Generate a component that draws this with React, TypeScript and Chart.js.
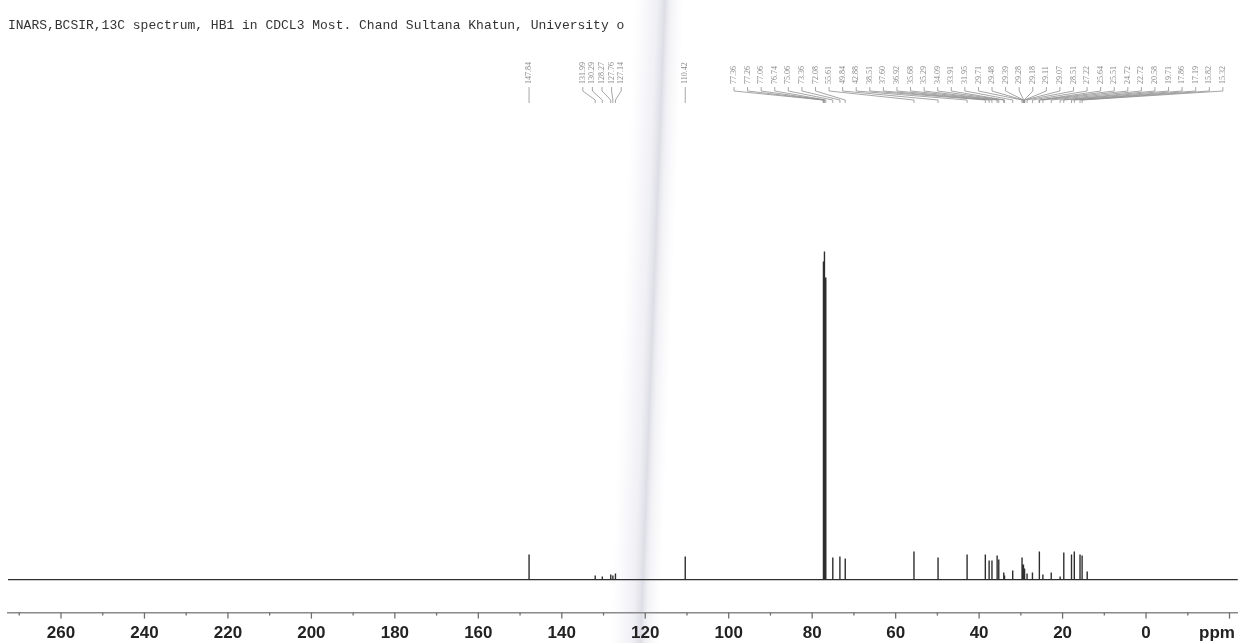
import React, { useEffect, useRef } from "react";
import { Chart, registerables } from "chart.js";

Chart.register(...registerables);

const titleText =
  "INARS,BCSIR,13C spectrum, HB1 in CDCL3 Most. Chand Sultana Khatun, University o";

// axis
const xMin = -22;
const xMax = 272.7;
const tickValues = [260, 240, 220, 200, 180, 160, 140, 120, 100, 80, 60, 40, 20, 0, -17];
const tickLabels = ["260", "240", "220", "200", "180", "160", "140", "120", "100", "80", "60", "40", "20", "0", "ppm"];
const majorTickMarks = [260, 240, 220, 200, 180, 160, 140, 120, 100, 80, 60, 40, 20, 0, -20];
const minorTickMarks = [270, 250, 230, 210, 190, 170, 150, 130, 110, 90, 70, 50, 30, 10, -10];

// peaks (ppm, intensity)
const peakPpm = [
  147.84, 131.99, 130.29, 128.27, 127.76, 127.14, 110.42,
  77.36, 77.26, 77.06, 76.74, 75.06, 73.36, 72.08,
  55.61, 49.84, 42.88, 38.51, 37.6, 36.92, 35.68, 35.29, 34.09, 33.91, 31.95,
  29.71, 29.48, 29.39, 29.28, 29.18, 29.11, 29.07, 28.51, 27.22,
  25.64, 25.51, 24.72, 22.72, 20.58, 19.71, 17.86, 17.19, 15.82, 15.32, 14.1,
];
const peakHeight = [
  25, 4, 3, 5, 4, 6, 23,
  318, 10, 328, 302, 22, 23, 21,
  28, 22, 25, 25, 19, 19, 24, 20, 7, 4, 9,
  22, 15, 13, 14, 11, 10, 9, 6, 7,
  28, 5, 5, 7, 3, 27, 25, 28, 25, 24, 8,
];

// peak-label groups
const labelGroup1 = [147.84];
const labelGroup2 = [131.99, 130.29, 128.27, 127.76, 127.14];
const labelGroup3 = [110.42];
const labelGroup4 = [
  77.36, 77.26, 77.06, 76.74, 75.06, 73.36, 72.08, 55.61, 49.84, 42.88,
  38.51, 37.6, 36.92, 35.68, 35.29, 34.09, 33.91, 31.95, 29.71, 29.48,
  29.39, 29.28, 29.18, 29.11, 29.07, 28.51, 27.22, 25.64, 25.51, 24.72,
  22.72, 20.58, 19.71, 17.86, 17.19, 15.82, 15.32,
];

const paperPlugin = {
  id: "paper",
  beforeDraw(chart: any) {
    const { ctx, width, height } = chart;
    ctx.save();
    ctx.fillStyle = "#ffffff";
    ctx.fillRect(0, 0, width, height);
    // faint scan fold
    ctx.translate(664, 0);
    ctx.transform(1, 0, -0.038, 1, 0, 0);
    const g = ctx.createLinearGradient(-30, 0, 20, 0);
    g.addColorStop(0, "rgba(220,220,235,0)");
    g.addColorStop(0.45, "rgba(205,205,222,0.3)");
    g.addColorStop(0.62, "rgba(175,175,195,0.42)");
    g.addColorStop(0.74, "rgba(205,205,220,0.25)");
    g.addColorStop(1, "rgba(225,225,235,0)");
    ctx.fillStyle = g;
    ctx.fillRect(-30, 0, 50, height);
    ctx.restore();
  },
};

const tickPlugin = {
  id: "tickMarks",
  afterDraw(chart: any) {
    const { ctx } = chart;
    const xs = chart.scales.x;
    const y0 = chart.chartArea.bottom;
    ctx.save();
    ctx.strokeStyle = "#6f6f6f";
    ctx.lineWidth = 1.3;
    majorTickMarks.forEach((v) => {
      const px = xs.getPixelForValue(v);
      ctx.beginPath();
      ctx.moveTo(px, y0);
      ctx.lineTo(px, y0 + 6);
      ctx.stroke();
    });
    minorTickMarks.forEach((v) => {
      const px = xs.getPixelForValue(v);
      ctx.beginPath();
      ctx.moveTo(px, y0);
      ctx.lineTo(px, y0 + 3);
      ctx.stroke();
    });
    ctx.restore();
  },
};

const peakLabelPlugin = {
  id: "peakLabels",
  afterDatasetsDraw(chart: any) {
    const { ctx } = chart;
    const xs = chart.scales.x;
    const textY = 84;
    const stubTop = 87;
    const stubBottom = 91;
    const meetY = 100;
    const endY = 103;
    const layouts = [
      { values: labelGroup1, mode: "single" },
      { values: labelGroup2, mode: "center", center: 602, spacing: 9.6 },
      { values: labelGroup3, mode: "single" },
      { values: labelGroup4, mode: "start", start: 734, spacing: 13.58 },
    ];
    ctx.save();
    ctx.font = '8px "Liberation Serif", serif';
    ctx.fillStyle = "#8a8a8a";
    ctx.strokeStyle = "#8f8f8f";
    ctx.lineWidth = 0.8;
    layouts.forEach((lay: any) => {
      const n = lay.values.length;
      lay.values.forEach((v: number, i: number) => {
        const px = xs.getPixelForValue(v);
        let lx = px;
        if (lay.mode === "center") lx = lay.center + (i - (n - 1) / 2) * lay.spacing;
        if (lay.mode === "start") lx = lay.start + i * lay.spacing;
        ctx.save();
        ctx.translate(lx, textY);
        ctx.rotate(-Math.PI / 2);
        ctx.textAlign = "left";
        ctx.textBaseline = "middle";
        ctx.fillText(v.toFixed(2), 0, 0);
        ctx.restore();
        ctx.beginPath();
        if (lay.mode === "single") {
          ctx.moveTo(px, stubTop);
          ctx.lineTo(px, endY);
        } else {
          ctx.moveTo(lx, stubTop);
          ctx.lineTo(lx, stubBottom);
          ctx.lineTo(px, meetY);
          ctx.lineTo(px, endY);
        }
        ctx.stroke();
      });
    });
    ctx.restore();
  },
};

export default function App() {
  const canvasRef = useRef<HTMLCanvasElement | null>(null);

  useEffect(() => {
    document.body.style.margin = "0";
    const canvas = canvasRef.current;
    if (!canvas) return;

    const spectrum: { x: number; y: number }[] = [{ x: xMax, y: 0 }];
    peakPpm.forEach((p, i) => {
      spectrum.push({ x: p, y: 0 }, { x: p, y: peakHeight[i] }, { x: p, y: 0 });
    });
    spectrum.push({ x: xMin, y: 0 });

    const chart = new Chart(canvas, {
      type: "line",
      data: {
        datasets: [
          {
            data: spectrum,
            borderColor: "#2e2e2e",
            borderWidth: 1.4,
            pointRadius: 0,
            tension: 0,
            fill: false,
          },
        ],
      },
      options: {
        animation: false,
        responsive: false,
        maintainAspectRatio: false,
        layout: { padding: { left: 8, right: 4, top: 0, bottom: -12 } },
        plugins: {
          legend: { display: false },
          tooltip: { enabled: false },
          title: {
            display: true,
            text: titleText,
            align: "start",
            color: "#333333",
            font: { family: '"Liberation Mono", "DejaVu Sans Mono", monospace', size: 13, weight: "normal" },
            padding: { top: 18, bottom: 6 },
          },
        },
        scales: {
          x: {
            type: "linear",
            reverse: true,
            min: xMin,
            max: xMax,
            afterBuildTicks: (s: any) => {
              s.ticks = tickValues.map((v) => ({ value: v }));
            },
            grid: { display: false, drawTicks: false },
            border: { display: true, color: "#8a8a8a", width: 1.5 },
            ticks: {
              autoSkip: false,
              maxRotation: 0,
              minRotation: 0,
              padding: 11,
              color: "#222222",
              font: { family: '"Liberation Sans", Arial, sans-serif', size: 17, weight: "bold" },
              callback: (value: any) => {
                const idx = tickValues.indexOf(Number(value));
                return idx >= 0 ? tickLabels[idx] : "";
              },
            },
          },
          y: {
            type: "linear",
            display: false,
            min: -33,
            max: 540,
          },
        },
      },
      plugins: [paperPlugin, tickPlugin, peakLabelPlugin],
    });

    return () => chart.destroy();
  }, []);

  return (
    <div style={{ width: 1246, height: 643 }}>
      <canvas ref={canvasRef} width={1246} height={643} style={{ display: "block" }} />
    </div>
  );
}
